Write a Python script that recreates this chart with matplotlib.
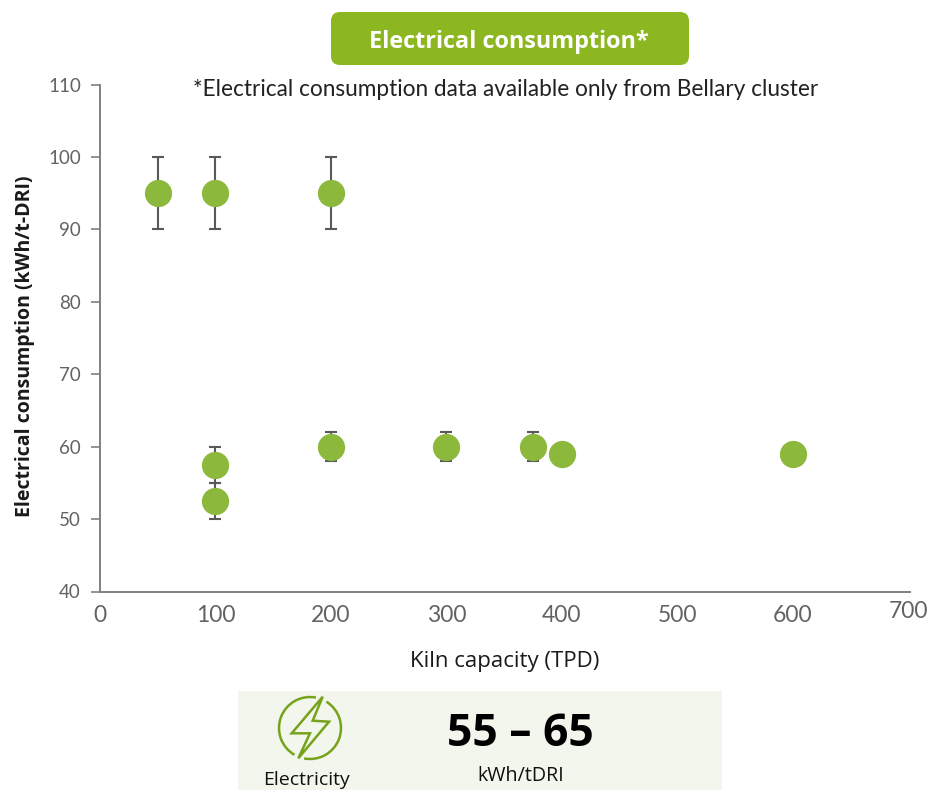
import matplotlib
matplotlib.use("Agg")
import matplotlib.pyplot as plt
from matplotlib.patches import FancyBboxPatch, Rectangle, Arc, Polygon

# data
capacity = [50, 100, 200, 100, 100, 200, 300, 375, 400, 600]
consumption = [95, 95, 95, 57.5, 52.5, 60, 60, 60, 59, 59]
err = [5, 5, 5, 2.5, 2.5, 2, 2, 2, 0, 0]
xticks = [0, 100, 200, 300, 400, 500, 600, 700]
yticks = [40, 50, 60, 70, 80, 90, 100, 110]

W, H = 933, 790

fig = plt.figure(figsize=(W / 100, H / 100), dpi=100)

# overlay in pixel coordinates for the banner and the bottom panel
bg = fig.add_axes([0, 0, 1, 1])
bg.set_xlim(0, W)
bg.set_ylim(H, 0)
bg.axis("off")

bg.add_patch(FancyBboxPatch((331, 12), 358, 53, boxstyle="round,pad=0,rounding_size=9",
                            fc="#8DB721", ec="none"))
bg.text(509, 42, "Electrical consumption*", color="white", fontsize=16.8, fontweight="bold",
        family="Open Sans", ha="center", va="center")

bg.add_patch(Rectangle((238, 691), 484, 99, fc="#F2F6EC", ec="none"))
bg.text(520.5, 734, "55 – 65", fontsize=32, fontweight="bold", family="Open Sans",
        ha="center", va="center", color="black")
bg.text(520.5, 776, "kWh/tDRI", fontsize=14.2, family="Open Sans", ha="center", va="center", color="#111111")
bg.text(306.5, 780, "Electricity", fontsize=14, family="Open Sans", ha="center", va="center", color="#111111")

# electricity icon, y axis is flipped here so the arc angles run clockwise
ICON = "#76A31C"
bg.add_patch(Arc((310, 728), 62, 62, theta1=120, theta2=281, color=ICON, lw=1.8))
bg.add_patch(Arc((310, 728), 62, 62, theta1=-58, theta2=101, color=ICON, lw=1.8))
bg.add_patch(Polygon([(322.7, 696.7), (291.7, 733.3), (310, 733.3), (298.3, 758.3), (329, 721.7), (312.7, 720.7)],
                     closed=True, fc="none", ec=ICON, lw=1.8, joinstyle="miter"))

ax = fig.add_axes([100 / W, 1 - 591.5 / H, 810 / W, 507 / H])
ax.patch.set_alpha(0)
ax.errorbar(capacity, consumption, yerr=err, fmt="none", ecolor="#595959", elinewidth=1.5,
            capsize=4.2, capthick=1.5, zorder=2)
ax.scatter(capacity, consumption, s=385, color="#8CB93B", linewidths=0, zorder=3, clip_on=False)

ax.set_xlim(0, 701.5)
ax.set_ylim(40, 110)
ax.set_xticks(xticks)
ax.set_yticks(yticks)
ax.spines["top"].set_visible(False)
ax.spines["right"].set_visible(False)
ax.spines["left"].set_color("#808080")
ax.spines["bottom"].set_color("#808080")
ax.spines["left"].set_linewidth(1.4)
ax.spines["bottom"].set_linewidth(1.4)
ax.tick_params(axis="y", length=6.7, width=1.2, color="#808080", labelcolor="#636363", labelsize=13.5, pad=7)
ax.tick_params(axis="x", length=0, labelcolor="#636363", labelsize=16.5, pad=10)
for lab in ax.get_xticklabels() + ax.get_yticklabels():
    lab.set_family("Lato")
# the 700 label sits a little higher than the others
ax.xaxis.get_major_ticks()[-1].set_pad(6.5)

ax.set_xlabel("Kiln capacity (TPD)", fontsize=16, family="Open Sans", color="#1a1a1a")
ax.xaxis.set_label_coords(405 / 810, -59 / 507)
ax.set_ylabel("Electrical consumption (kWh/t-DRI)", fontsize=14, fontweight="bold", family="Open Sans",
              color="#1a1a1a")
ax.yaxis.set_label_coords(-65 / 810, (591.5 - 346) / 507)

bg.text(505.5, 89, "*Electrical consumption data available only from Bellary cluster", fontsize=16.3,
        family="Lato", color="#222222", ha="center", va="center")

fig.savefig("out.png", dpi=100)
